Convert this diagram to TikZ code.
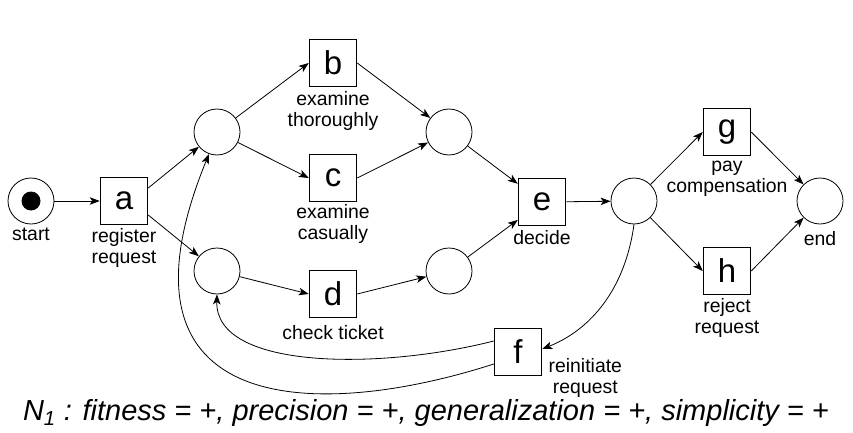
\documentclass[tikz,border=0pt]{standalone}
\usepackage{fontspec}
\setsansfont{Liberation Sans}
\usetikzlibrary{arrows.meta,positioning}
\tikzset{
  pnnode/.style = {align=center, inner sep=0pt, text centered,
    font=\sffamily},
  pn_p/.style = {pnnode, circle, draw=black, line width=0.8pt,
    minimum size=46pt},% reseau de Petri, place
  pn_t/.style = {pnnode, rectangle, draw=black, line width=1.5pt,
    minimum size=47pt, font=\sffamily\fontsize{33}{33}\selectfont},% reseau de Petri, transition
  pn_tok/.style = {circle, fill=black, inner sep=0pt,
    minimum size=19pt},% jeton
  pn_l/.style = {pnnode, font=\sffamily\fontsize{19.4}{21}\selectfont}% etiquette
}
\begin{document}
\begin{tikzpicture}[->,>={Stealth[length=10pt,width=7.5pt,inset=2.5pt]},
  x=1pt, y=-1pt, line width=0.8pt]
\useasboundingbox (0,0) rectangle (853,433);
% places
\node [pn_p] (pstart) at (31,201) {};
\node [pn_tok] (tok) at (pstart.center) {};
\node [pn_p] (p1) at (217,132) {};
\node [pn_p] (p2) at (217,271) {};
\node [pn_p] (p3) at (449,132) {};
\node [pn_p] (p4) at (449,271) {};
\node [pn_p] (p5) at (634,201) {};
\node [pn_p] (pend) at (820,201) {};
% transitions
\node [pn_t] (a) at (124,201) {a};
\node [pn_t] (b) at (333,63) {b};
\node [pn_t] (c) at (333,178) {c};
\node [pn_t] (d) at (333,294) {d};
\node [pn_t] (e) at (542,202) {e};
\node [pn_t] (f) at (518,352) {f};
\node [pn_t] (g) at (727,132) {g};
\node [pn_t] (h) at (727,271) {h};
% etiquettes
\node [pn_l, below=3pt of pstart] (l_start) {start};
\node [pn_l, below=3pt of a] (l_a) {register\\request};
\node [pn_l, below=4pt of b] (l_b) {examine\\thoroughly};
\node [pn_l, below=2pt of c] (l_c) {examine\\casually};
\node [pn_l, below=7pt of d] (l_d) {check ticket};
\node [pn_l, below=4pt of e] (l_e) {decide};
\node [pn_l, anchor=north west] (l_f) at ([xshift=6pt,yshift=-6pt]f.east)
  {reinitiate\\request};
\node [pn_l, below=4pt of g] (l_g) {pay\\compensation};
\node [pn_l, below=3pt of h] (l_h) {reject\\request};
\node [pn_l, below=7pt of pend] (l_end) {end};
\node [pnnode, anchor=base, font=\sffamily\itshape\fontsize{29}{34}\selectfont]
  (cap) at (426,420) {N\textsubscript{1} : fitness = +, precision = +,
  generalization = +, simplicity = +};
% arcs
\draw (pstart) -- (a);
\draw ([yshift=13pt]a.east) -- (p1);
\draw ([yshift=-14pt]a.east) -- (p2);
\draw (p1) -- (b.west);
\draw (p1) -- (c.west);
\draw (p2) -- (d.west);
\draw (b.east) -- (p3);
\draw (c.east) -- (p3);
\draw (d.east) -- (p4);
\draw (p3) -- (e);
\draw (p4) -- (e);
\draw (e) -- (p5);
\draw (p5) -- (g.west);
\draw (p5) -- (h.west);
\draw (g.east) -- (pend);
\draw (h.east) -- (pend);
\draw (p5.south) .. controls (625,290) and (590,330) .. ([yshift=3pt]f.east);
\draw ([yshift=11pt]f.west) .. controls (380,370) and (215,370) .. (p2.south);
\draw ([yshift=-12pt]f.west) .. controls (320,420) and (100,420) .. (p1.250);
\end{tikzpicture}
\end{document}
